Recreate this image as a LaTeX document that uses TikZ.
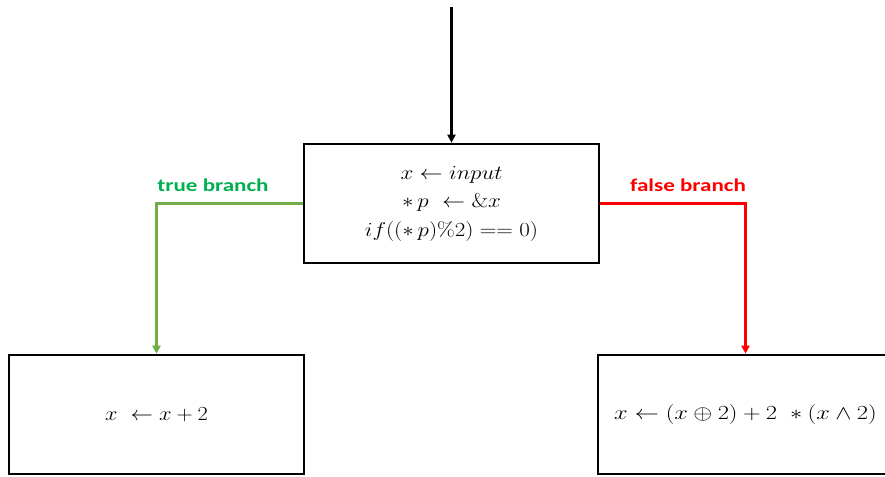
\RequirePackage{fix-cm}
\documentclass[tikz,border=0pt]{standalone}
\usepackage{graphicx}
\usepackage{fontspec}
\newfontfamily\labelfont{Carlito}
\usetikzlibrary{arrows.meta}
\definecolor{tgreen}{RGB}{112,173,71}
\definecolor{tlabel}{RGB}{0,176,80}
\definecolor{fred}{RGB}{255,0,0}
\newcommand{\sx}[2][1.15]{\scalebox{#1}[1]{#2}}
\newcommand{\lx}[1]{\scalebox{1.28}[1]{#1}}
\tikzset{
  box/.style={draw=black, line width=2.6pt, minimum width=295pt, minimum height=119pt, inner sep=0pt, align=center, font=\fontsize{20}{28.5}\selectfont},
  conn/.style={line width=2.4pt, -{Triangle[length=8pt,width=8pt]}},
  blabel/.style={font=\labelfont\bfseries\fontsize{18}{20}\selectfont, anchor=base, inner sep=0pt}
}
\begin{document}
\begin{tikzpicture}[x=1pt,y=1pt]
\useasboundingbox (0,0) rectangle (885,-476);
\begin{scope}
\clip (0,0) rectangle (885,-476);
\node[box] (c) at (451.5,-203.5) {\sx{$x \leftarrow input$}\\ \sx{$*\,p\ \leftarrow \&x$}\\ \sx{$if\big((*\,p)\%2\big) == 0)$}};
\node[box] (l) at (156.5,-414.5) {\sx[1.12]{$x\ \leftarrow x+2$}};
\node[box] (r) at (745.5,-414.5) {\sx[1.22]{$x \leftarrow (x \oplus 2) + 2\ \ast (x \wedge 2)$}};
\coordinate (top) at (451.5,-7);
\draw[conn, black] (top) -- (c.north);
\draw[conn, tgreen] (c.west) -| (l.north);
\draw[conn, fred] (c.east) -| (r.north);
\node[blabel, text=tlabel] (tl) at (213,-191) {\lx{true branch}};
\node[blabel, text=fred] (fl) at (688,-191) {\lx{false branch}};
\end{scope}
\end{tikzpicture}
\end{document}
